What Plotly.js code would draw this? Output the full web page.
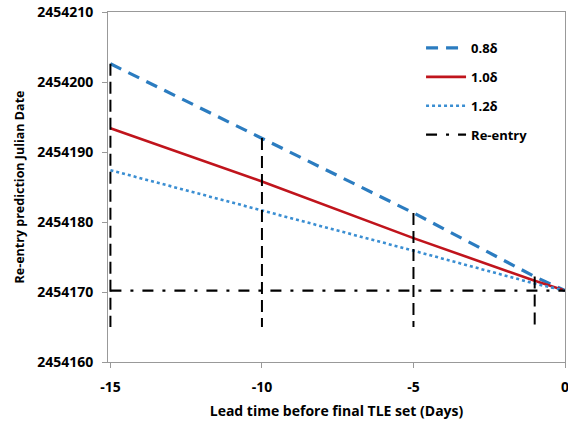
<!DOCTYPE html>
<html>
<head>
<meta charset="utf-8">
<script src="https://cdn.plot.ly/plotly-3.0.1.min.js"></script>
<style>html,body{margin:0;padding:0;background:#fff;}#chart{width:568px;height:426px;}</style>
</head>
<body>
<div id="chart"></div>
<script>
const leadTimes = [-15, -10, -5, -1, 0];
const pred08 = [2454202.6, 2454192.0, 2454181.3, 2454172.2, 2454170.2];
const pred10 = [2454193.4, 2454185.8, 2454177.7, 2454171.6, 2454170.2];
const pred12 = [2454187.4, 2454181.7, 2454175.9, 2454171.2, 2454170.2];
const reentryX = [-15, 0];
const reentryY = [2454170.2, 2454170.2];
const markerBottom = 2454165;
const seriesNames = ['0.8δ', '1.0δ', '1.2δ', 'Re-entry'];

const ff = 'Open Sans, Arial, sans-serif';
const traces = [
  {x: leadTimes, y: pred08, name: seriesNames[0], mode: 'lines', legendgroup: 'a',
   line: {color: '#2B7CC0', width: 3.2, dash: '12px,8px'}},
  {x: leadTimes, y: pred10, name: seriesNames[1], mode: 'lines', legendgroup: 'b',
   line: {color: '#C0141C', width: 2.6}},
  {x: leadTimes, y: pred12, name: seriesNames[2], mode: 'lines', legendgroup: 'c',
   line: {color: '#3A8ED2', width: 2.6, dash: 'dot'}},
  {x: reentryX, y: reentryY, name: seriesNames[3], mode: 'lines', legendgroup: 'd',
   line: {color: '#000', width: 2.4, dash: '11px,9px,3px,9px'}}
];
for (let i = 0; i < leadTimes.length - 1; i++) {
  traces.push({x: [leadTimes[i], leadTimes[i]], y: [pred08[i], markerBottom],
    mode: 'lines', showlegend: false, hoverinfo: 'skip',
    line: {color: '#000', width: 2, dash: '12px,6px'}});
}

const layout = {
  width: 568, height: 426,
  margin: {l: 108, r: 3, t: 12, b: 64},
  paper_bgcolor: '#fff', plot_bgcolor: '#fff',
  font: {family: ff, color: '#000'},
  showlegend: true,
  legend: {x: 0.685, y: 0.94, xanchor: 'left', yanchor: 'top',
    font: {family: ff, size: 13, color: '#000', weight: 'bold'},
    bgcolor: 'rgba(0,0,0,0)', tracegroupgap: 9, itemwidth: 40},
  xaxis: {
    range: [-15.08, 0], tickvals: [-15, -10, -5, 0], ticktext: ['-15', '-10', '-5', '0'],
    showgrid: false, zeroline: false, showline: true, linecolor: '#999', linewidth: 1,
    mirror: true, ticks: 'outside', ticklen: 5, tickcolor: '#999',
    ticklabelstandoff: 7, ticklabeloverflow: 'allow',
    tickfont: {family: ff, size: 14, color: '#000', weight: 'bold'},
    title: {text: 'Lead time before final TLE set (Days)', standoff: 11,
      font: {family: ff, size: 14, color: '#000', weight: 'bold'}}
  },
  yaxis: {
    range: [2454160, 2454210], dtick: 10, tickformat: 'd',
    showgrid: false, zeroline: false, showline: true, linecolor: '#999', linewidth: 1,
    mirror: true, ticks: 'outside', ticklen: 5, tickcolor: '#999',
    ticklabelstandoff: 6,
    tickfont: {family: ff, size: 14, color: '#000', weight: 'bold'},
    title: {text: 'Re-entry prediction Julian Date', standoff: 9,
      font: {family: ff, size: 12.5, color: '#000', weight: 'bold'}}
  }
};
Plotly.newPlot('chart', traces, layout, {displayModeBar: false, staticPlot: true});
</script>
</body>
</html>
